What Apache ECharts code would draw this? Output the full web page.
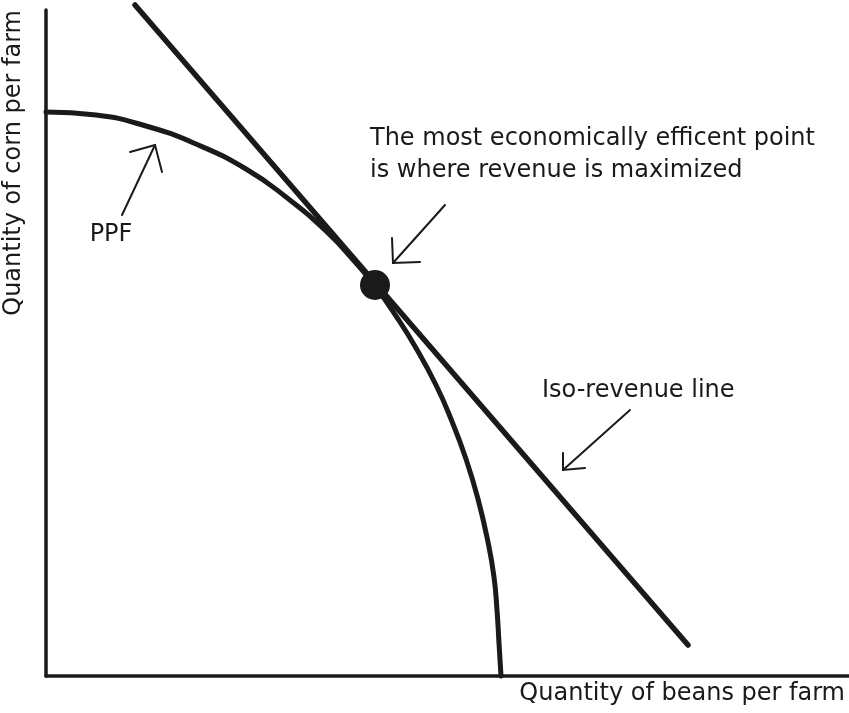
<!DOCTYPE html>
<html>
<head>
<meta charset="utf-8">
<script src="https://cdn.jsdelivr.net/npm/echarts@6/dist/echarts.min.js"></script>
<style>
html,body{margin:0;padding:0;background:#fff;}
#c{width:849px;height:713px;}
</style>
</head>
<body>
<div id="c"></div>
<script>
// ---- data (in chart units: beans on x, corn on y) ----
var xAxisTitle = 'Quantity of beans per farm';
var yAxisTitle = 'Quantity of corn per farm';

var ppfCurve = [
  [0,564],[50,561],[100,550],[150,532],[200,507],[240,479],[280,445],
  [310,413],[329,390],[350,360],[370,328],[390,291],[405,257],[420,217],
  [432,177],[442,134],[448,99],[451,66],[453,33],[455,0]
];
var isoRevenueLine = [[89,671],[642,31]];
var optimumPoint = [[329,391]];

// arrows: shaft [tail, head], head [arm1, tip, arm2]
var ppfArrowShaft = [[76,461],[109,531]];
var ppfArrowHead = [[84,524],[109,531],[116,504]];
var effArrowShaft = [[399,471],[347,413]];
var effArrowHead = [[346,438],[347,413],[374,414]];
var isoArrowShaft = [[584,266],[517,206]];
var isoArrowHead = [[517,223],[517,206],[539,208]];

var annotationTexts = [
  {text:'PPF', at:[65,441], align:'center'},
  {text:'The most economically efficent point', at:[324,537], align:'left'},
  {text:'is where revenue is maximized', at:[324,505], align:'left'},
  {text:'Iso-revenue line', at:[496,285], align:'left'}
];

var ink = '#1a1a1a';
var font = 'DejaVu Sans';

var chart = echarts.init(document.getElementById('c'), null, {renderer:'canvas'});

var arrowLines = [
  {coords: ppfArrowShaft}, {coords: ppfArrowHead},
  {coords: effArrowShaft}, {coords: effArrowHead},
  {coords: isoArrowShaft}, {coords: isoArrowHead}
];

var option = {
  animation: false,
  backgroundColor: '#fff',
  grid: {left:46, right:0, top:10, bottom:37, containLabel:false, outerBoundsMode:'none'},
  xAxis: {
    type:'value', min:0, max:803,
    axisLine:{show:true, onZero:false, lineStyle:{color:ink, width:3.5}},
    axisTick:{show:false}, axisLabel:{show:false}, splitLine:{show:false},
    name: xAxisTitle, nameLocation:'end', nameGap:-4,
    nameTextStyle:{fontFamily:font, fontSize:24, color:ink, align:'right', verticalAlign:'top', padding:[6,0,0,0]}
  },
  yAxis: {
    type:'value', min:0, max:666,
    axisLine:{show:true, onZero:false, lineStyle:{color:ink, width:3.5}},
    axisTick:{show:false}, axisLabel:{show:false}, splitLine:{show:false},
    name: yAxisTitle, nameLocation:'end', nameGap:0, nameRotate:90,
    nameTextStyle:{fontFamily:font, fontSize:24, color:ink, align:'right', verticalAlign:'bottom', padding:[0,0,20,0]}
  },
  series: [
    {
      type:'line', data: ppfCurve, smooth:true, showSymbol:false, clip:false,
      lineStyle:{color:ink, width:5, cap:'round', join:'round'}, z:3
    },
    {
      type:'line', data: isoRevenueLine, showSymbol:false, clip:false,
      lineStyle:{color:ink, width:5.5, cap:'round'}, z:3
    },
    {
      type:'scatter', data: optimumPoint, symbol:'circle', symbolSize:30,
      itemStyle:{color:ink, opacity:1}, z:5
    },
    {
      type:'lines', coordinateSystem:'cartesian2d', polyline:true,
      data: arrowLines,
      lineStyle:{color:ink, width:2, opacity:1, cap:'round', join:'miter'}, z:4
    },
    {
      type:'scatter', symbolSize:0, clip:false,
      itemStyle:{opacity:1},
      data: annotationTexts.map(function(a){
        return {value:a.at, name:a.text,
          label:{show:true, position:[0,0], formatter:a.text, align:a.align, verticalAlign:'middle',
                 fontFamily:font, fontSize:24, color:ink, opacity:1}};
      }),
      z:6
    }
  ]
};
chart.setOption(option);
</script>
</body>
</html>
